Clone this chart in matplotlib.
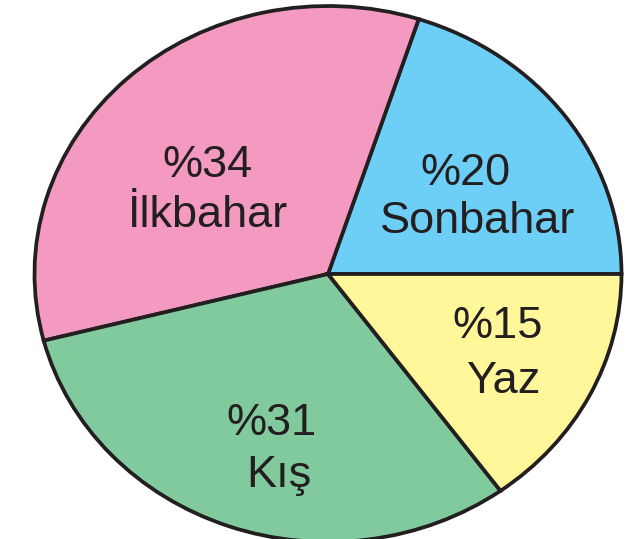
import matplotlib
matplotlib.use("Agg")
import matplotlib.pyplot as plt

# Data
labels = ["Sonbahar", "İlkbahar", "Kış", "Yaz"]
values = [20, 34, 31, 15]
colors = ["#6DCFF6", "#F49AC1", "#81CA9D", "#FFF799"]

W, H = 642, 539
fig = plt.figure(figsize=(W / 100, H / 100), dpi=100)
ax = fig.add_axes([0, 0, 1, 1])

cx, cy, rx, ry = 328, 274, 293.5, 268
ax.pie(values, colors=colors, startangle=0, counterclock=True,
       wedgeprops=dict(edgecolor="#231F20", linewidth=2.7))
ax.set_aspect("auto")
ax.set_xlim(-cx / rx, (W - cx) / rx)
ax.set_ylim(-(H - cy) / ry, cy / ry)
ax.axis("off")

# label positions (pixel, baseline)
label_pos = {
    "Sonbahar": ((465, 185), (478, 233)),
    "İlkbahar": ((207, 177), (208, 227)),
    "Kış": ((272, 435), (279, 487)),
    "Yaz": ((498, 338), (503, 393)),
}
for lab, val in zip(labels, values):
    (x1, y1), (x2, y2) = label_pos[lab]
    fig.text(x1 / W, 1 - y1 / H, f"%{val}", ha="center", va="baseline",
             fontsize=32.5, color="#231F20", family="Liberation Sans")
    fig.text(x2 / W, 1 - y2 / H, lab, ha="center", va="baseline",
             fontsize=32.5, color="#231F20", family="Liberation Sans")

fig.savefig("out.png", dpi=100)
